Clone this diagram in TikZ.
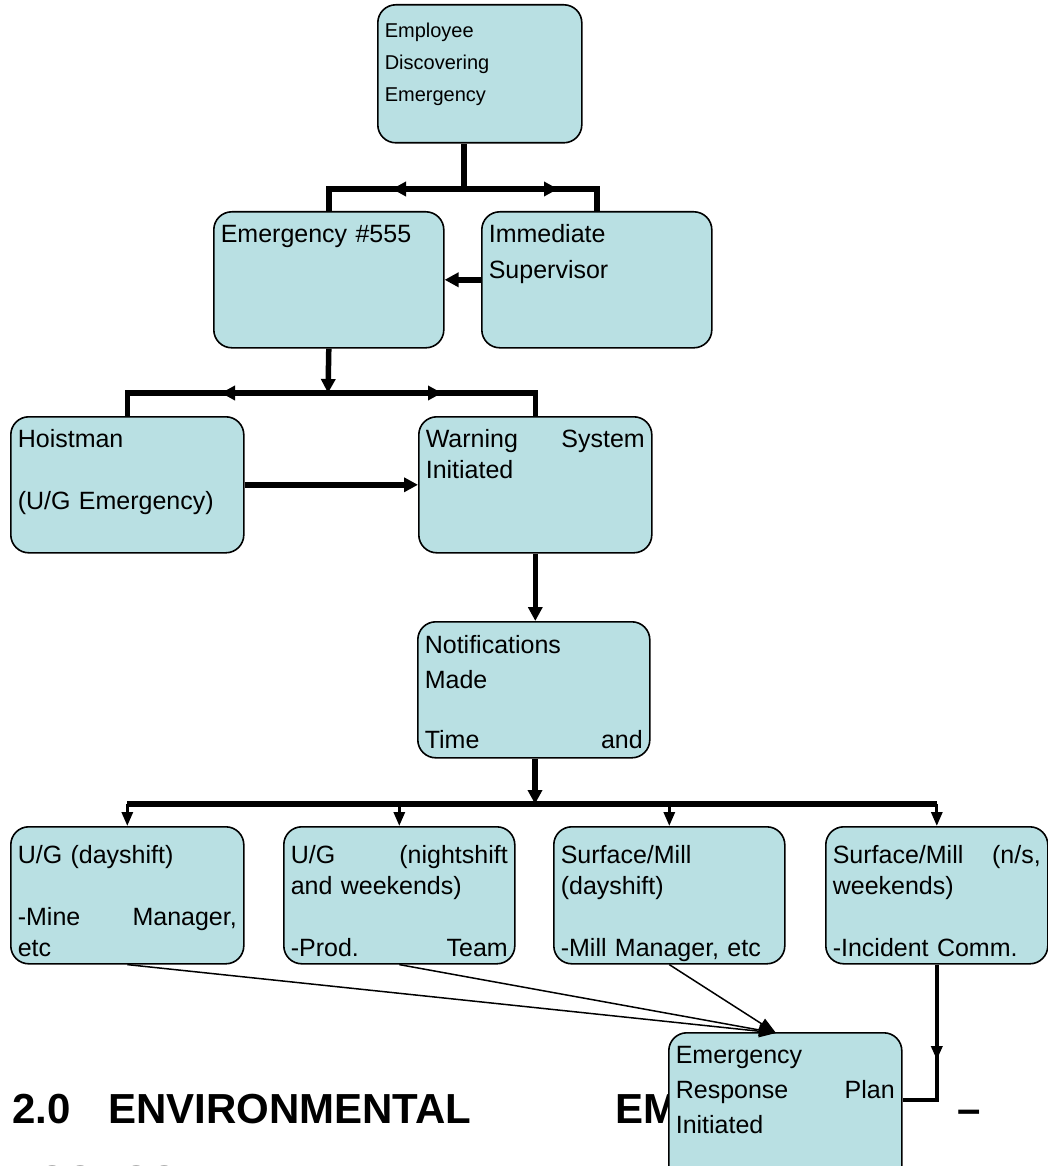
\documentclass[tikz,border=0pt]{standalone}
\usepackage{fontspec}
\setmainfont{Liberation Sans}
\usetikzlibrary{arrows.meta}
\definecolor{boxfill}{RGB}{185,224,227}
\begin{document}
\begin{tikzpicture}[x=1pt,y=-1pt,
  box/.style={draw=black, line width=1.6pt, fill=boxfill, rounded corners=18pt,
    anchor=north west, inner xsep=7pt, inner ysep=0pt, align=left,
    font=\fontsize{25}{31}\selectfont},
  head/.style={anchor=base west, inner sep=0pt, font=\fontsize{42}{50}\selectfont\bfseries},
  bus/.style={line width=5.5pt},
  midline/.style={line width=3pt},
  thinline/.style={line width=1.5pt},
  bigtip/.style={-{Triangle[length=14pt,width=14pt]}},
  smalltip/.style={-{Triangle[length=14pt,width=11pt]}},
  thintip/.style={-{Triangle[length=17pt,width=12pt]}}]
\fill[white] (0,0) rectangle (1048,1166);
\useasboundingbox (0,0) rectangle (1048,1166);
\clip (0,0) rectangle (1048,1166);

% heading (partly hidden behind the last box)
\node[head] (h1) at (12,1123) {2.0};
\node[head] (h2) at (108,1123) {ENVIRONMENTAL};
\node[head] (h3) at (615,1123) {EMERGENCY};
\node[head] (h4) at (957,1123) {–};
\node[head] (h5) at (8,1195) {ASSESSMENT};

% boxes
\node[box, text width=190pt, text height=33pt, text depth=105pt,
      font=\fontsize{20}{32}\selectfont] (A) at (377,4) {Employee\\Discovering\\Emergency};
\node[box, text width=216pt, text height=31pt, text depth=105pt,
      font=\fontsize{25}{36}\selectfont] (B) at (213,211) {Emergency \#555};
\node[box, text width=216pt, text height=31pt, text depth=105pt,
      font=\fontsize{25}{36}\selectfont] (C) at (481,211) {Immediate\\Supervisor};
\node[box, text width=219pt, text height=31pt, text depth=105pt] (D) at (10,416)
      {Hoistman\\[31pt](U/G Emergency)};
\node[box, text width=219pt, text height=31pt, text depth=105pt] (E) at (418,416)
      {Warning\hfill System\\Initiated};
\node[box, text width=218pt, text height=32pt, text depth=104pt,
      font=\fontsize{25}{35}\selectfont] (F) at (417,621)
      {Notifications\\Made\\[25pt]Time\hfill and};
\node[box, text width=219pt, text height=37pt, text depth=100pt] (G1) at (10,826)
      {U/G (dayshift)\\[31pt]-Mine\hfill Manager,\\etc};
\node[box, text width=217pt, text height=37pt, text depth=100pt] (G2) at (283,826)
      {U/G\hfill (nightshift\\and weekends)\\[31pt]-Prod.\hfill Team};
\node[box, text width=217pt, text height=37pt, text depth=100pt] (G3) at (553,826)
      {Surface/Mill\\(dayshift)\\[31pt]-Mill Manager, etc};
\node[box, text width=208pt, text height=37pt, text depth=100pt] (G4) at (825,826)
      {Surface/Mill\hfill (n/s,\\weekends)\\[31pt]-Incident Comm.};
\node[box, text width=219pt, text height=31pt, text depth=125pt,
      font=\fontsize{25}{35}\selectfont] (H) at (668,1032)
      {Emergency\\Response\hfill Plan\\Initiated};

% junctions
\coordinate (j1) at (464,189);
\coordinate (j2) at (328,393);
\coordinate (j3) at (535,804);
\coordinate (hin) at (776,1033);
\coordinate (hright) at (H.east |- 0,1100);

% top fan-out
\draw[bus] (A.south -| j1) -- (j1);
\draw[bus] (j1) -| (B.north);
\draw[bus] (j1) -| (C.north);
\draw[bus,bigtip] (j1) -- (392,189);
\draw[bus,bigtip] (j1) -- (558,189);
\draw[bus,bigtip] (C.west) -- (B.east);

% second fan-out
\draw[bus,bigtip] (B.south) -- (j2);
\draw[bus] (j2) -| (D.north);
\draw[bus] (j2) -| (E.north);
\draw[bus,bigtip] (j2) -- (221,393);
\draw[bus,bigtip] (j2) -- (442,393);
\draw[bus,bigtip] (D.east) -- (E.west);

% warning -> notifications
\draw[bus,bigtip] (E.south) -- (E.south |- F.north);
\draw[bus,bigtip] (F.south -| j3) -- (j3);

% bottom bus
\draw[bus] (G1.north |- j3) -- (G4.north |- j3);
\draw[midline,smalltip] (G1.north |- j3) -- (G1.north);
\draw[midline,smalltip] (G2.north |- j3) -- (G2.north);
\draw[midline,smalltip] (G3.north |- j3) -- (G3.north);
\draw[midline,smalltip] (G4.north |- j3) -- (G4.north);

% to emergency response plan
\draw[thinline,thintip] (G1.south) -- (hin);
\draw[thinline,thintip] (G2.south) -- (hin);
\draw[thinline,thintip] (G3.south) -- (hin);
\draw[line width=4.5pt] (G4.south) |- (hright);
\draw[line width=4.5pt,smalltip] (G4.south) -- (G4.south |- 0,1060);
\end{tikzpicture}
\end{document}
